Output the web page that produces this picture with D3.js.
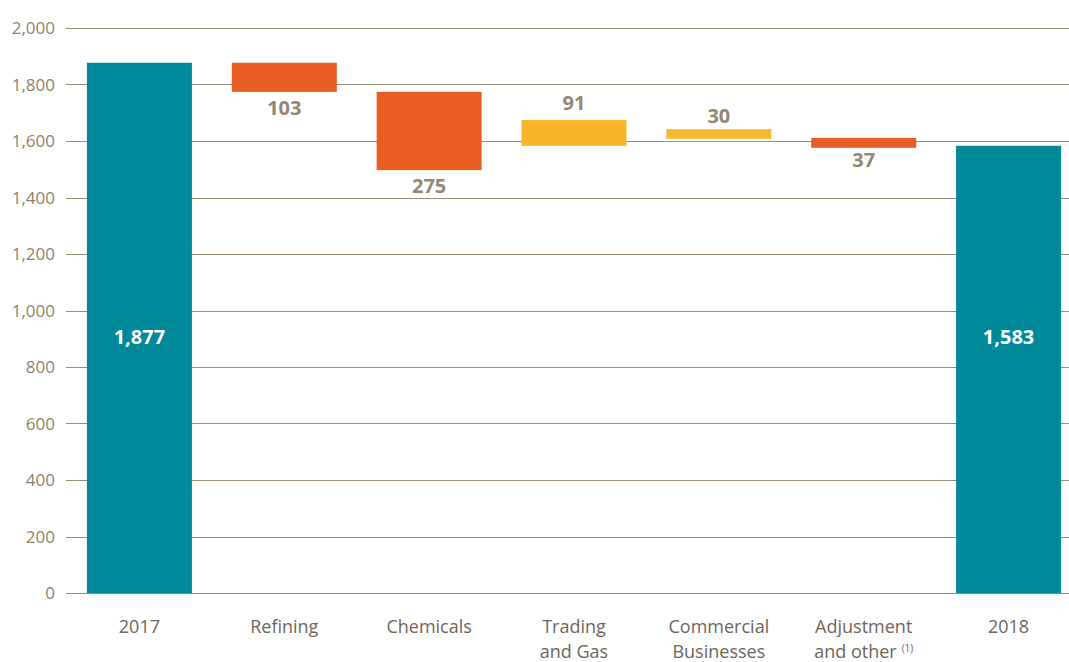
<!DOCTYPE html>
<html>
<head>
<meta charset="utf-8">
<script src="https://cdn.jsdelivr.net/npm/d3@7"></script>
<style>
  html, body { margin: 0; padding: 0; background: #fff; }
  svg { display: block; font-family: "Open Sans", "Lato", sans-serif; }
</style>
</head>
<body>
<svg id="chart" width="1069" height="662"></svg>
<script>
// categories (multi-line labels) and bar extents
const categories = [["2017"], ["Refining"], ["Chemicals"], ["Trading", "and Gas"],
                    ["Commercial", "Businesses"], ["Adjustment", "and other"], ["2018"]];
const barLow   = [0, 1774, 1497, 1583, 1608, 1576, 0];
const barHigh  = [1877, 1877, 1774, 1674, 1642, 1611, 1583];
const kinds    = ["total", "down", "down", "up", "up", "down", "total"];
const labels   = ["1,877", "103", "275", "91", "30", "37", "1,583"];
const yTicks   = [0, 200, 400, 600, 800, 1000, 1200, 1400, 1600, 1800, 2000];

const W = 1069, H = 662;
const colors = { total: "#00889b", down: "#e95e22", up: "#f8b62d" };

const svg = d3.select("#chart");

const x = d3.scaleBand()
    .domain(d3.range(categories.length))
    .range([67, 1081])
    .paddingInner(0.275)
    .paddingOuter(0.1375);

const y = d3.scaleLinear().domain([0, 2000]).range([593, 28]);

// ── Gridlines + tick labels ──────────────────────────────────────
svg.append("g").selectAll("line")
    .data(yTicks).join("line")
    .attr("x1", 66).attr("x2", W)
    .attr("y1", d => Math.round(y(d)) + 0.5).attr("y2", d => Math.round(y(d)) + 0.5)
    .attr("stroke", "#9a8d77").attr("stroke-width", 1);

svg.append("g").selectAll("text")
    .data(yTicks).join("text")
    .attr("x", 55).attr("y", d => y(d) + 6)
    .attr("text-anchor", "end").attr("fill", "#8f826d")
    .attr("font-size", 17)
    .text(d => d3.format(",")(d));

// ── Bars ─────────────────────────────────────────────────────────
svg.append("g").selectAll("rect")
    .data(categories.map((c, i) => i)).join("rect")
    .attr("x", i => x(i)).attr("width", x.bandwidth())
    .attr("y", i => y(barHigh[i]))
    .attr("height", i => y(barLow[i]) - y(barHigh[i]))
    .attr("fill", i => colors[kinds[i]]);

// ── Value labels ─────────────────────────────────────────────────
categories.forEach((c, i) => {
    const cx = x(i) + x.bandwidth() / 2;
    let ty, fill = "#958872";
    if (kinds[i] === "total") {
        ty = y(880); fill = "#ffffff";
    } else if (kinds[i] === "up") {
        ty = y(barHigh[i]) - (barHigh[i] - barLow[i] > 50 ? 10 : 6);
    } else {
        ty = y(barLow[i]) + (barHigh[i] - barLow[i] > 50 ? 23 : 19);
    }
    svg.append("text")
        .attr("x", cx).attr("y", ty)
        .attr("text-anchor", "middle").attr("fill", fill)
        .attr("font-size", 20).attr("font-weight", "700")
        .text(labels[i]);
});

// ── Category labels ──────────────────────────────────────────────
categories.forEach((lines, i) => {
    const cx = x(i) + x.bandwidth() / 2;
    const t = svg.append("text")
        .attr("x", cx).attr("y", 633)
        .attr("text-anchor", "middle").attr("fill", "#6e665b")
        .attr("font-size", 18);
    lines.forEach((ln, j) => {
        t.append("tspan").attr("x", cx).attr("dy", j === 0 ? 0 : 25).text(ln);
        if (i === 5 && j === 1) {
            t.append("tspan").attr("dx", 5).attr("dy", -6)
                .attr("font-size", 10).text("(1)");
        }
    });
});
</script>
</body>
</html>
